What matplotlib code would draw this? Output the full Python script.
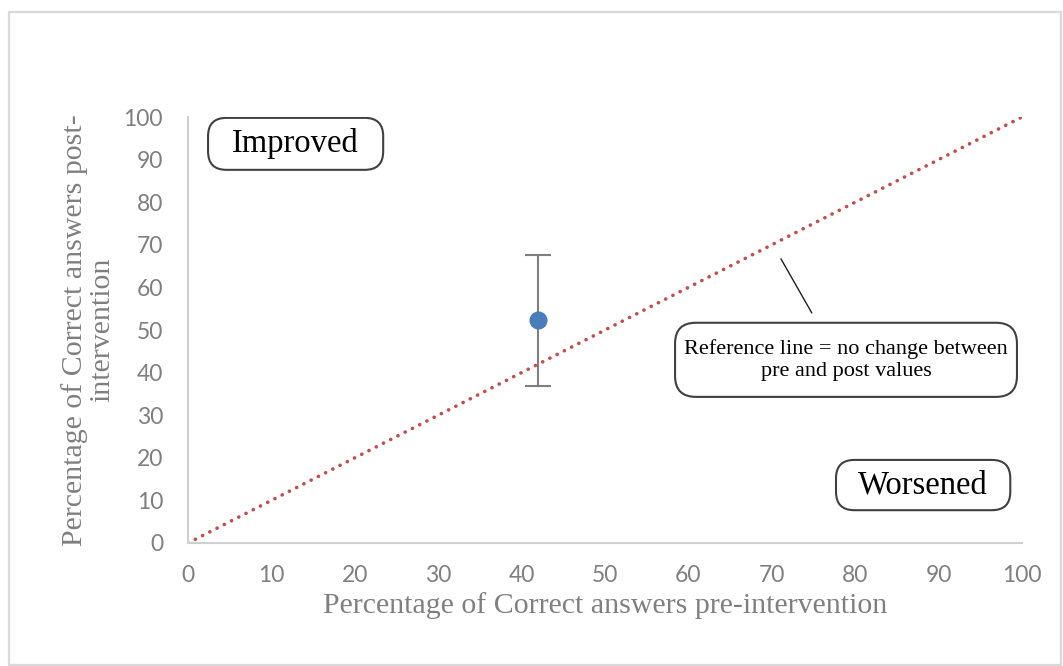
import matplotlib.pyplot as plt
from matplotlib.patches import Rectangle, FancyBboxPatch

# data
pre_score = [42]
post_score = [52.3]
post_err = [15.4]
ref_x = [0, 100]
ref_y = [0, 100]
ticks = list(range(0, 101, 10))

serif = ['Liberation Serif', 'DejaVu Serif']
sans = ['Lato', 'DejaVu Sans']
gray = '#7f7f7f'

fig = plt.figure(figsize=(10.63, 6.66), dpi=100)
ax = fig.add_axes([0.1769, 0.1847, 0.7845, 0.6396])

# outer border of the chart area
fig.patches.append(Rectangle((9 / 1063, 1 / 666), 1052 / 1063, 653 / 666,
                             transform=fig.transFigure, fill=False,
                             edgecolor='#d9d9d9', linewidth=1.6))

ax.plot(ref_x, ref_y, linestyle=(0, (0.05, 2.2)), color='#c0504d', linewidth=2.6,
        dash_capstyle='round')
ax.errorbar(pre_score, post_score, yerr=post_err, fmt='o', color='#4a7ebb',
            markersize=12, ecolor='#7f7f7f', elinewidth=1.5, capsize=9.5,
            capthick=1.5, zorder=3)

ax.set_xlim(0, 100)
ax.set_ylim(0, 100)
ax.set_xticks(ticks)
ax.set_yticks(ticks)
for lab in ax.get_xticklabels() + ax.get_yticklabels():
    lab.set_family(sans)
    lab.set_fontsize(16.5)
    lab.set_color(gray)
ax.tick_params(axis='x', length=0, pad=16)
ax.tick_params(axis='y', length=0, pad=18)
for s in ['top', 'right']:
    ax.spines[s].set_visible(False)
for s in ['left', 'bottom']:
    ax.spines[s].set_color('#d0d0d0')
    ax.spines[s].set_linewidth(1.5)

ax.set_xlabel('Percentage of Correct answers pre-intervention', family=serif,
              fontsize=21.5, color=gray, labelpad=4)
ax.set_ylabel('Percentage of Correct answers post-\nintervention', family=serif,
              fontsize=21.5, color=gray, labelpad=6, linespacing=1.05)

# rounded call-out boxes (data coords, aspect corrected for the corner radius)
asp = (0.6396 * 666) / (0.7845 * 1063)
yfix = 1 / asp


def callout(x0, y0, w, h, text, size, r=2.2):
    ax.add_patch(FancyBboxPatch((x0, y0), w, h,
                                boxstyle='round,pad=0,rounding_size=%g' % r,
                                mutation_aspect=yfix, facecolor='white',
                                edgecolor='#404040', linewidth=1.5, zorder=4))
    ax.text(x0 + w / 2, y0 + h / 2, text, family=serif, fontsize=size,
            ha='center', va='center', zorder=5, linespacing=1.25)


callout(2.4, 87.6, 21.0, 12.2, 'Improved', 23.5)
callout(77.7, 7.7, 20.9, 11.8, 'Worsened', 23.5)
callout(58.4, 34.3, 41.0, 17.4, 'Reference line = no change between\npre and post values', 16, r=2.5)

# leader line from the reference line towards the label
ax.annotate('', xy=(71.1, 66.7), xytext=(74.8, 54.0),
            arrowprops=dict(arrowstyle='-', color='#202020', linewidth=1,
                            shrinkA=0, shrinkB=0))

fig.savefig('out.png', dpi=100)
